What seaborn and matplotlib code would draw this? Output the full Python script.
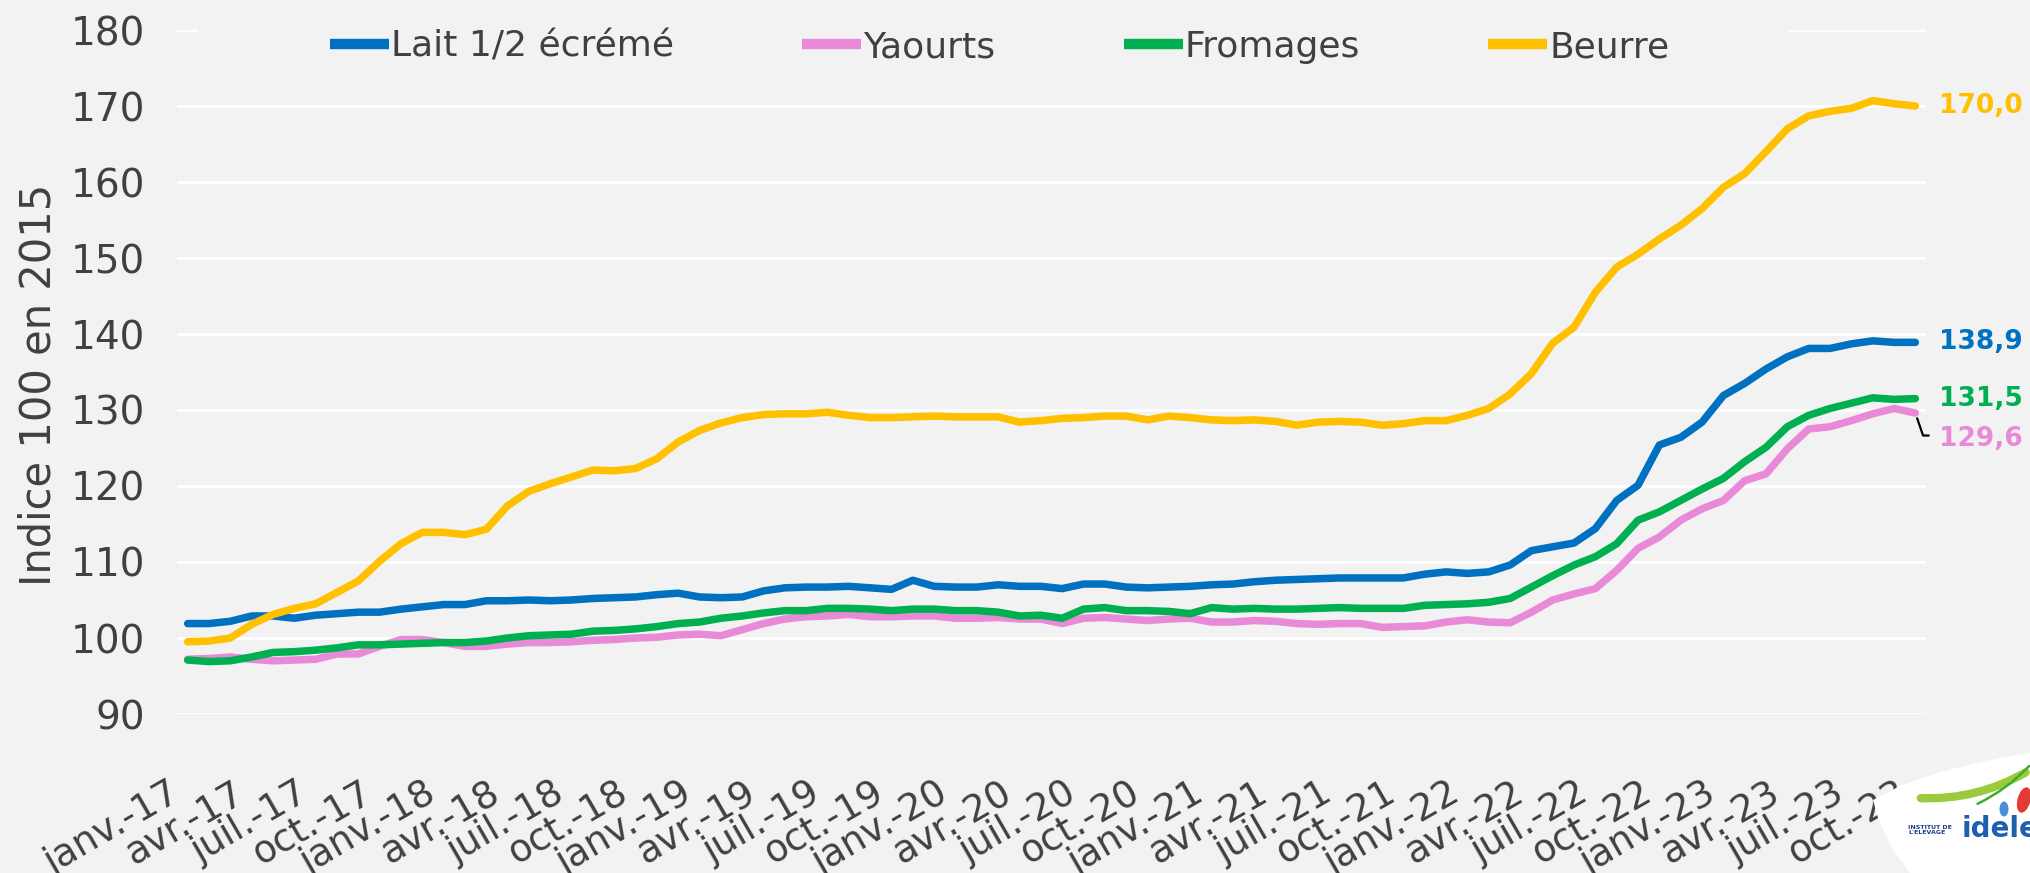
import numpy as np
import pandas as pd
import matplotlib.pyplot as plt
import matplotlib.transforms as mtransforms
from matplotlib.lines import Line2D
from matplotlib.patches import Rectangle, Ellipse, Polygon, FancyArrowPatch
import seaborn as sns

# ---- Data: monthly index (base 100 in 2015), janv.-17 -> oct.-23 ----
lait = [101.9, 101.9, 102.2, 102.9, 102.9, 102.6, 103.0, 103.2, 103.4, 103.4,
        103.8, 104.1, 104.4, 104.4, 104.9, 104.9, 105.0, 104.9, 105.0, 105.2,
        105.3, 105.4, 105.7, 105.9, 105.4, 105.3, 105.4, 106.2, 106.6, 106.7,
        106.7, 106.8, 106.6, 106.4, 107.6, 106.8, 106.7, 106.7, 107.0, 106.8,
        106.8, 106.5, 107.1, 107.1, 106.7, 106.6, 106.7, 106.8, 107.0, 107.1,
        107.4, 107.6, 107.7, 107.8, 107.9, 107.9, 107.9, 107.9, 108.4, 108.7,
        108.5, 108.7, 109.6, 111.5, 112.0, 112.5, 114.4, 118.1, 120.1, 125.4,
        126.4, 128.4, 131.9, 133.5, 135.4, 137.0, 138.1, 138.1, 138.7, 139.1,
        138.9, 138.9]
yaourts = [97.2, 97.3, 97.5, 97.2, 97.0, 97.1, 97.2, 97.9, 97.9, 98.9,
           99.8, 99.8, 99.4, 98.9, 98.9, 99.2, 99.4, 99.4, 99.5, 99.7,
           99.8, 100.0, 100.1, 100.4, 100.5, 100.3, 101.1, 101.9, 102.5, 102.8,
           102.9, 103.1, 102.8, 102.8, 102.9, 102.9, 102.6, 102.6, 102.7, 102.5,
           102.5, 101.9, 102.6, 102.7, 102.5, 102.3, 102.5, 102.6, 102.1, 102.1,
           102.3, 102.2, 101.9, 101.8, 101.9, 101.9, 101.4, 101.5, 101.6, 102.1,
           102.4, 102.1, 102.0, 103.4, 105.0, 105.8, 106.5, 108.9, 111.8, 113.3,
           115.5, 117.0, 118.1, 120.7, 121.6, 124.9, 127.5, 127.8, 128.6, 129.5,
           130.2, 129.6]
fromages = [97.1, 96.9, 97.0, 97.5, 98.1, 98.2, 98.4, 98.7, 99.1, 99.1,
            99.2, 99.3, 99.4, 99.4, 99.6, 100.0, 100.3, 100.4, 100.5, 100.9,
            101.0, 101.2, 101.5, 101.9, 102.1, 102.6, 102.9, 103.3, 103.6, 103.6,
            103.9, 103.9, 103.8, 103.6, 103.8, 103.8, 103.6, 103.6, 103.4, 102.9,
            103.0, 102.6, 103.8, 104.0, 103.6, 103.6, 103.5, 103.2, 104.0, 103.8,
            103.9, 103.8, 103.8, 103.9, 104.0, 103.9, 103.9, 103.9, 104.3, 104.4,
            104.5, 104.7, 105.2, 106.7, 108.2, 109.6, 110.7, 112.4, 115.5, 116.6,
            118.1, 119.6, 121.0, 123.2, 125.1, 127.8, 129.3, 130.2, 130.9, 131.6,
            131.4, 131.5]
beurre = [99.5, 99.6, 100.0, 101.8, 103.1, 103.9, 104.5, 106.0, 107.5, 110.1,
          112.4, 113.9, 113.9, 113.6, 114.3, 117.4, 119.3, 120.3, 121.2, 122.1,
          122.0, 122.3, 123.6, 125.8, 127.3, 128.3, 129.0, 129.4, 129.5, 129.5,
          129.7, 129.3, 129.0, 129.0, 129.1, 129.2, 129.1, 129.1, 129.1, 128.4,
          128.6, 128.9, 129.0, 129.2, 129.2, 128.7, 129.2, 129.0, 128.7, 128.6,
          128.7, 128.5, 128.0, 128.4, 128.5, 128.4, 128.0, 128.2, 128.6, 128.6,
          129.3, 130.2, 132.1, 134.8, 138.8, 140.9, 145.5, 148.8, 150.5, 152.5,
          154.3, 156.5, 159.3, 161.1, 164.0, 167.0, 168.7, 169.3, 169.7, 170.7,
          170.3, 170.0]

tick_labels = ['janv.-17', 'avr.-17', 'juil.-17', 'oct.-17',
               'janv.-18', 'avr.-18', 'juil.-18', 'oct.-18',
               'janv.-19', 'avr.-19', 'juil.-19', 'oct.-19',
               'janv.-20', 'avr.-20', 'juil.-20', 'oct.-20',
               'janv.-21', 'avr.-21', 'juil.-21', 'oct.-21',
               'janv.-22', 'avr.-22', 'juil.-22', 'oct.-22',
               'janv.-23', 'avr.-23', 'juil.-23', 'oct.-23']

series_names = ['Lait 1/2 écrémé', 'Yaourts', 'Fromages', 'Beurre']
colors = ['#0070C0', '#E98AD8', '#00B050', '#FFC000']
end_labels = ['138,9', '129,6', '131,5', '170,0']

n = len(lait)
df = pd.DataFrame({
    'mois': list(range(n)) * 4,
    'indice': lait + yaourts + fromages + beurre,
    'produit': np.repeat(series_names, n),
})

# ---- Style ----
bg = '#F2F2F2'
txt = '#404040'
sns.set_style('white', rc={'axes.facecolor': bg, 'figure.facecolor': bg})
plt.rcParams['font.family'] = ['DejaVu Sans']

W, H = 2031, 873
fig = plt.figure(figsize=(W / 100, H / 100), dpi=100, facecolor=bg)
ax = fig.add_axes([177 / W, 159 / H, 1749 / W, 684 / H])

sns.lineplot(data=df, x='mois', y='indice', hue='produit',
             palette=dict(zip(series_names, colors)), linewidth=5.4,
             legend=False, ax=ax)

ax.set_xlim(-0.5, n - 0.5)
ax.set_ylim(90, 180)
ax.set_xlabel('')
ax.set_ylabel('')
for s in ax.spines.values():
    s.set_visible(False)

ax.set_axisbelow(True)
ax.yaxis.grid(True, color='white', linewidth=2)
ax.xaxis.grid(False)

# y ticks
ax.set_yticks(range(90, 181, 10))
ax.tick_params(axis='y', length=0, pad=23, labelsize=28, labelcolor=txt)

# x ticks: labels every 3 months, white marks between groups
ax.set_xticks(range(0, n, 3))
ax.set_xticklabels(tick_labels)
ax.set_xticks(np.arange(-0.5, n, 3), minor=True)
ax.tick_params(axis='x', which='major', length=0, pad=55, labelsize=27,
               labelcolor=txt, labelrotation=30)
ax.tick_params(axis='x', which='minor', length=12, width=1.5, color='white',
               direction='out')
shift = mtransforms.ScaledTranslation(-10 / 100, 0, fig.dpi_scale_trans)
for lab in ax.get_xticklabels():
    lab.set_ha('right')
    lab.set_va('center')
    lab.set_rotation_mode('anchor')
    lab.set_transform(lab.get_transform() + shift)

# y label
fig.text(39 / W, 1 - 385 / H, 'Indice 100 en 2015', rotation=90,
         ha='center', va='center', fontsize=30, color=txt)

# hide the top gridline behind the legend
ax.add_patch(Rectangle((21 / 1749, 0.985), 1591 / 1749, 0.03,
                       transform=ax.transAxes, facecolor=bg, edgecolor='none',
                       zorder=1, clip_on=False))

# legend
handles = [Line2D([0], [0], color=c, lw=7.5, solid_capstyle='butt') for c in colors]
leg = fig.legend(handles, series_names, loc='center left',
                 bbox_to_anchor=(330 / W, 1 - 47 / H), ncol=4, frameon=False,
                 fontsize=26, handlelength=1.64, handletextpad=0.05,
                 columnspacing=3.55, borderpad=0, borderaxespad=0)
for t in leg.get_texts():
    t.set_color(txt)

# end-of-line value labels
lasts = [lait[-1], yaourts[-1], fromages[-1], beurre[-1]]
for name, c, lbl, v in zip(series_names, colors, end_labels, lasts):
    if name == 'Yaourts':
        ax.annotate(lbl, xy=(n - 1, v), xytext=(17, -19),
                    textcoords='offset points', va='center', ha='left',
                    fontsize=19, fontweight='bold', color=c,
                    annotation_clip=False,
                    arrowprops=dict(arrowstyle='-', color='black', lw=1.6,
                                    relpos=(0, 0.65), shrinkA=5, shrinkB=4,
                                    connectionstyle='angle,angleA=0,angleB=-71,rad=0'))
    else:
        ax.annotate(lbl, xy=(n - 1, v), xytext=(17, 0),
                    textcoords='offset points', va='center', ha='left',
                    fontsize=19, fontweight='bold', color=c,
                    annotation_clip=False)

# logo (bottom right), drawn in pixel-like inch units
def px(x, y):
    return (x / 100, (H - y) / 100)

leaf = [px(1873, 800), px(1900, 786), px(1940, 772), px(1985, 761),
        px(2031, 752), px(2031, 873), px(1910, 873), px(1890, 845),
        px(1878, 818)]
fig.add_artist(Polygon(leaf, closed=True, facecolor='white', edgecolor='none',
                       transform=fig.dpi_scale_trans))
fig.add_artist(FancyArrowPatch(px(1918, 798), px(2028, 771),
                               connectionstyle='arc3,rad=0.15', arrowstyle='-',
                               lw=6, color='#9BCB3C',
                               transform=fig.dpi_scale_trans))
fig.add_artist(FancyArrowPatch(px(1975, 805), px(2031, 764),
                               connectionstyle='arc3,rad=0.1', arrowstyle='-',
                               lw=1.8, color='#3DAE2B',
                               transform=fig.dpi_scale_trans))
fig.add_artist(Ellipse(px(2004, 809), 0.09, 0.15, facecolor='#4A8FD6',
                       edgecolor='none', transform=fig.dpi_scale_trans))
fig.add_artist(Ellipse(px(2024, 800), 0.13, 0.26, angle=-15,
                       facecolor='#E53935', edgecolor='none',
                       transform=fig.dpi_scale_trans))
fig.text(1908 / W, 1 - 830 / H, "INSTITUT DE\nL'ELEVAGE", fontsize=4.5,
         fontweight='bold', color='#1D3F8C', ha='left', va='center',
         linespacing=1.0)
fig.text(1962 / W, 1 - 829 / H, 'idele', fontsize=20, fontweight='bold',
         color='#1F5FB0', ha='left', va='center')

fig.savefig('out.png', dpi=100, facecolor=bg)
